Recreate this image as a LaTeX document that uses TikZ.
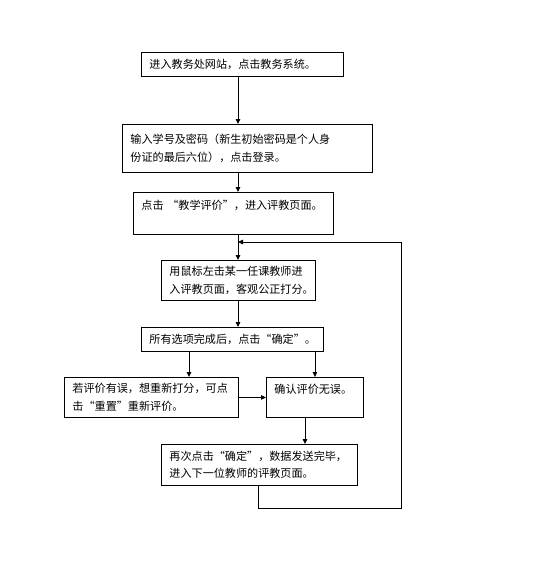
\documentclass[tikz,border=0pt]{standalone}
\usepackage{fontspec}
\newfontfamily\cjk{Noto Sans CJK SC}
\usetikzlibrary{arrows.meta}

\begin{document}
\begin{tikzpicture}[x=1pt, y=-1pt, >={Triangle[length=5pt,width=4.5pt]},
  stepbox/.style={draw, line width=0.9pt, anchor=north west, align=left, inner xsep=8pt, inner ysep=2pt,
    font=\cjk\fontsize{11.1}{17.5}\selectfont},
  edge/.style={->, line width=0.9pt},
  link/.style={line width=0.9pt}
]
\useasboundingbox (0,0) rectangle (537,573);
% boxes, by their top left corners
\node[stepbox, text width=186pt, minimum height=24pt] (site) at (141,52) {进入教务处网站，点击教务系统。};
\node[stepbox, text width=234pt, minimum height=48pt] (login) at (122,124) {输入学号及密码（新生初始密码是个人身\\份证的最后六位），点击登录。};
\node[stepbox, text width=184pt, minimum height=42pt] (eval) at (133,192) {点击 “教学评价”，进入评教页面。\\\mbox{}};
\node[stepbox, text width=138pt, minimum height=40pt] (teacher) at (161,260) {用鼠标左击某一任课教师进\\入评教页面，客观公正打分。};
\node[stepbox, text width=166pt, minimum height=24pt] (done) at (141,327) {所有选项完成后，点击“确定”。};
\node[stepbox, text width=158pt, minimum height=40pt] (redo) at (64,377) {若评价有误，想重新打分，可点\\击“重置”重新评价。};
\node[stepbox, text width=81pt, minimum height=40pt] (ok) at (266,377) {确认评价无误。\\\mbox{}};
\node[stepbox, text width=180pt, minimum height=41pt] (next) at (161,444) {再次点击“确定”，数据发送完毕，\\进入下一位教师的评教页面。};

% helper points for the connectors
\coordinate (spine) at (238,0);
\coordinate (left) at (189,0);
\coordinate (right) at (305,0);
\coordinate (back) at (238,242);
\coordinate (corner1) at (258,508);
\coordinate (corner2) at (401,508);
\coordinate (corner3) at (401,242);

\draw[edge] (site.south -| spine) -- (login.north -| spine);
\draw[edge] (login.south -| spine) -- (eval.north -| spine);
\draw[edge] (eval.south -| spine) -- (teacher.north -| spine);
\draw[edge] (teacher.south -| spine) -- (done.north -| spine);
\draw[edge] (done.south -| left) -- (redo.north -| left);
\draw[edge] (done.south -| ok.north) -- (ok.north);
\draw[edge] (redo.east) -- (ok.west);
\draw[edge] (ok.south -| right) -- (next.north -| right);
\draw[link] (next.south -| corner1) -- (corner1) -- (corner2) -- (corner3);
\draw[edge] (corner3) -- (back);
\end{tikzpicture}
\end{document}
